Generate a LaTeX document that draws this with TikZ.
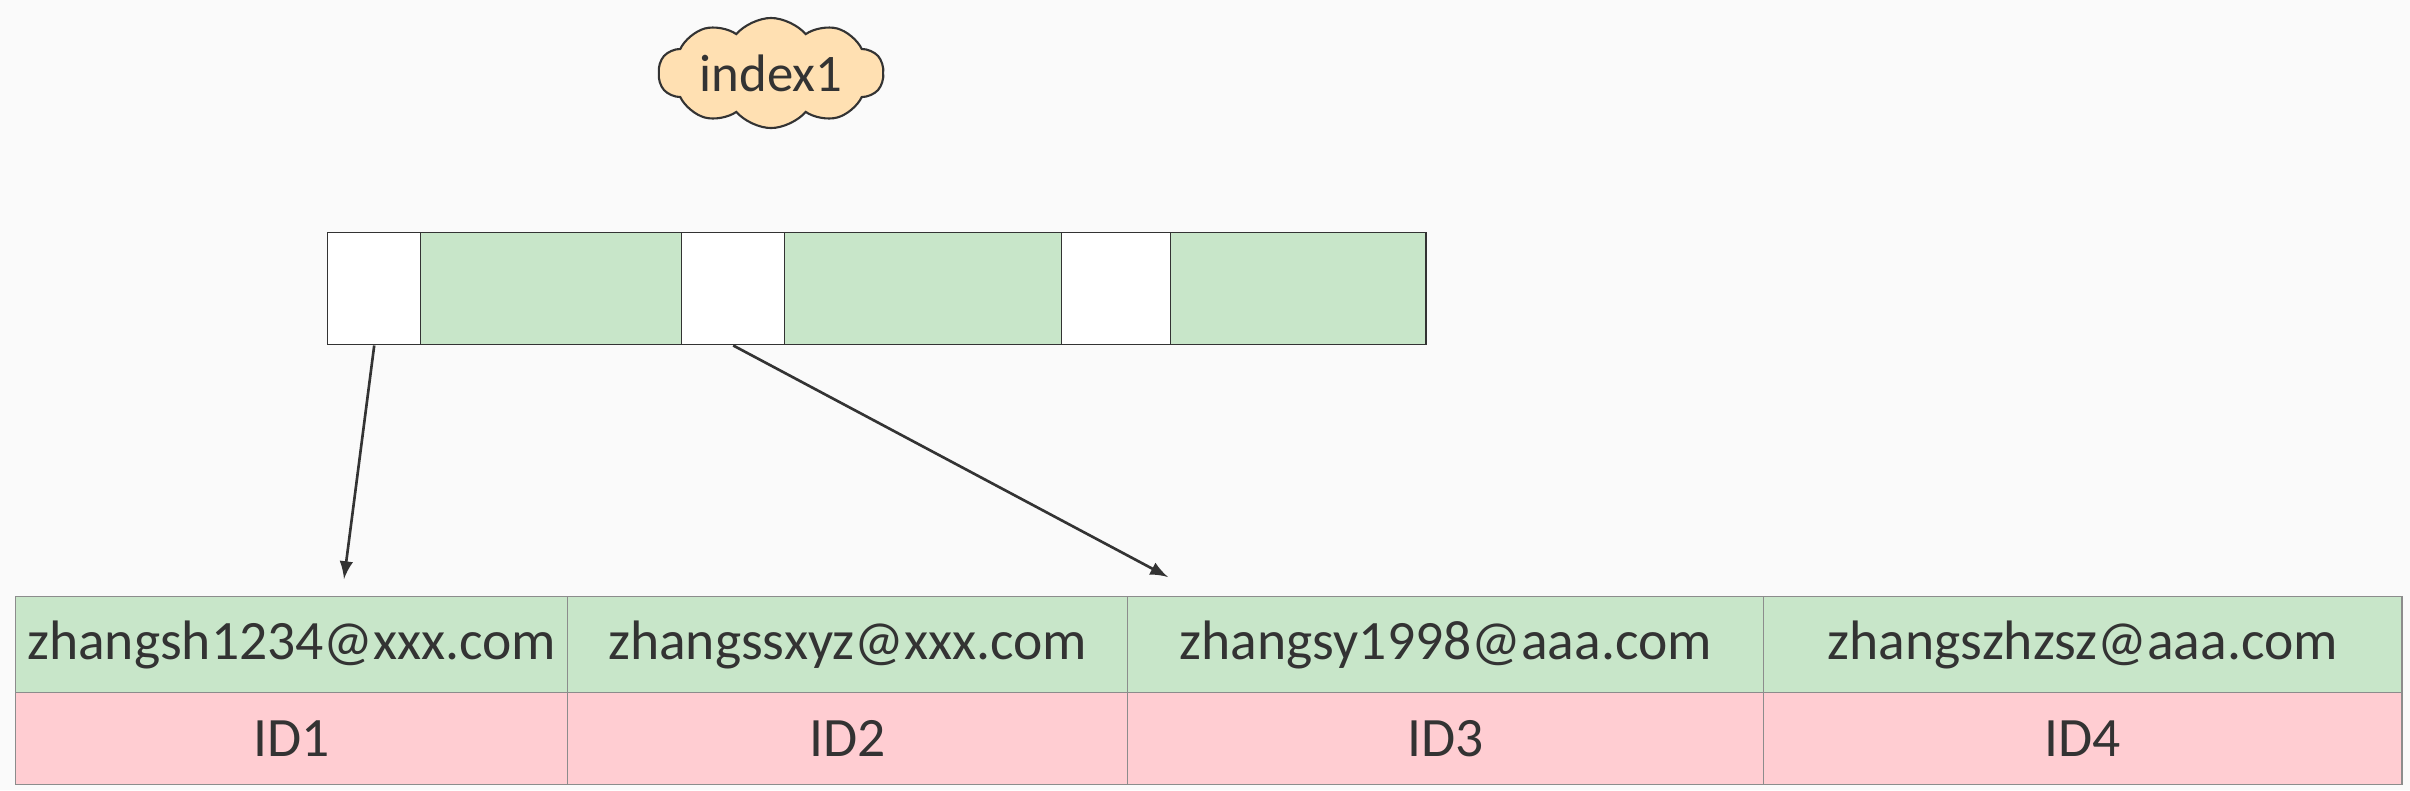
\documentclass[tikz,border=0pt]{standalone}
\usepackage{fontspec}
\setmainfont{Carlito}
\usetikzlibrary{shapes.symbols,arrows}
\definecolor{bgcol}{HTML}{FAFAFA}
\definecolor{keygreen}{HTML}{C8E6C9}
\definecolor{idpink}{HTML}{FFCDD2}
\definecolor{cloudfill}{HTML}{FFE0B2}
\definecolor{ink}{HTML}{333333}
\definecolor{gridgrey}{HTML}{8C8C8C}
\tikzstyle{slot}=[draw=ink,line width=0.4pt,minimum height=1.12cm,inner sep=0pt,anchor=north west]
\tikzstyle{cell}=[draw=gridgrey,line width=0.35pt,inner sep=0pt,anchor=north west,text=ink,font=\fontsize{15.8}{18}\selectfont]
\tikzstyle{pointer}=[draw=ink,line width=0.75pt,-latex]
\begin{document}
\begin{tikzpicture}[x=0.01cm,y=-0.01cm]
    \path[fill=bgcol,use as bounding box] (0,0) rectangle (2410,790);

    \node[cloud,cloud puffs=10,cloud puff arc=100,aspect=2.4,draw=ink,fill=cloudfill,line width=0.6pt,
          minimum width=2.25cm,minimum height=1.1cm,inner sep=0pt,text=ink,
          font=\fontsize{15}{17}\selectfont] (idx) at (771,73) {index1};

    % slots of the index page
    \foreach \pos/\wid/\col/\name in {{327/0.93/white/s1},{420/2.61/keygreen/k1},
        {681/1.03/white/s2},{784/2.77/keygreen/k2},{1061/1.09/white/s3},{1170/2.55/keygreen/k3}}
        \node[slot,fill=\col,minimum width=\wid cm] (\name) at (\pos,232) {};

    % rows of the table
    \foreach \pos/\wid/\mail/\id/\name in {{15/5.52/zhangsh1234@xxx.com/ID1/1},
        {567/5.60/zhangssxyz@xxx.com/ID2/2},{1127/6.36/zhangsy1998@aaa.com/ID3/3},
        {1763/6.38/zhangszhzsz@aaa.com/ID4/4}}
    {
        \node[cell,fill=keygreen,minimum width=\wid cm,minimum height=0.96cm] (m\name) at (\pos,596) {\mail};
        \node[cell,fill=idpink,minimum width=\wid cm,minimum height=0.92cm] (i\name) at (\pos,692) {\id};
    }

    \coordinate (t1) at (344,579);
    \coordinate (t2) at (1168,577);
    \draw[pointer] (s1.south) -- (t1);
    \draw[pointer] (s2.south) -- (t2);
\end{tikzpicture}
\end{document}
